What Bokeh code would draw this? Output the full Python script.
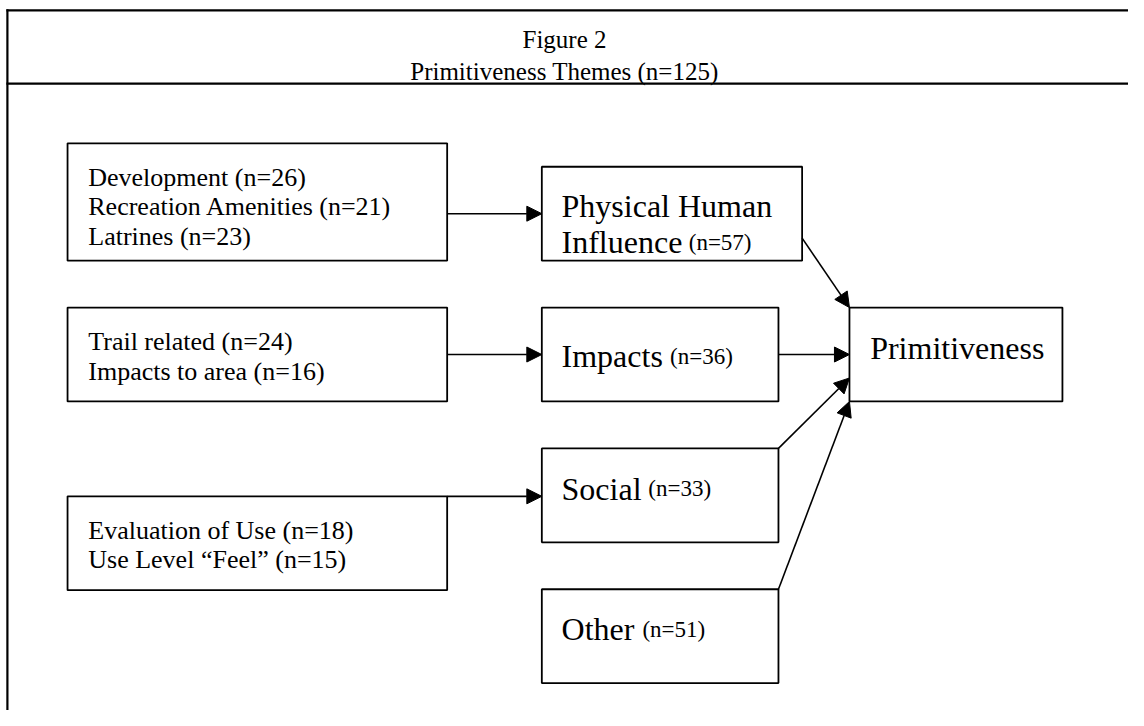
from bokeh.plotting import figure
from bokeh.models import Range1d, Arrow, NormalHead, ColumnDataSource
from bokeh.core.properties import value
from bokeh.embed import file_html
from bokeh.resources import INLINE

# ---------------- data ----------------
title_lines = ["Figure 2", "Primitiveness Themes (n=125)"]
total_n = 125

sub_themes = [
    ["Development", "Recreation Amenities", "Latrines"],
    ["Trail related", "Impacts to area"],
    ["Evaluation of Use", "Use Level \u201cFeel\u201d"],
]
sub_n = [[26, 21, 23], [24, 16], [18, 15]]

themes = [["Physical Human", "Influence"], ["Impacts"], ["Social"], ["Other"]]
theme_n = [57, 36, 33, 51]
outcome = "Primitiveness"

# ---------------- layout (reference pixel space) ----------------
W, H = 1128, 710
REF_W, REF_H = 1144, 726

left_boxes = [(68, 453, 146, 266), (68, 453, 314, 410), (68, 453, 507, 603)]
theme_boxes = [(549, 813, 170, 266), (549, 789, 314, 410), (549, 789, 458, 554), (549, 789, 602, 698)]
out_box = (861, 1077, 314, 410)

left_first_baseline = [181, 349, 542]
left_line_step = 30
theme_baselines = [[210, 247], [364], [499], [643]]
theme_n_x = [698, 679, 657, 651]

FONT = "Liberation Serif"

p = figure(width=W, height=H, output_backend="svg", toolbar_location=None,
           x_range=Range1d(0, REF_W), y_range=Range1d(REF_H, 0),
           min_border=0)
p.axis.visible = False
p.grid.visible = False
p.outline_line_color = None
p.background_fill_color = "white"
p.border_fill_color = "white"

# outer frame (clipped at right/bottom as in the reference)
p.segment(x0=[7, 6, 6], y0=[9, 10, 85], x1=[7, REF_W, REF_W], y1=[REF_H, 10, 85],
          line_color="black", line_width=2.2)

# title
p.text(x=[572, 572], y=[40, 73], text=title_lines, text_font=value(FONT),
       text_font_size="25px", text_align="center", text_baseline="alphabetic",
       text_color="black")

# boxes
allb = left_boxes + theme_boxes + [out_box]
src = ColumnDataSource(dict(left=[b[0] for b in allb], right=[b[1] for b in allb],
                            top=[b[2] for b in allb], bottom=[b[3] for b in allb]))
p.quad(left="left", right="right", top="top", bottom="bottom", source=src,
       fill_color=None, line_color="black", line_width=1.8)

# left box texts
xs, ys, ts = [], [], []
for gi, names in enumerate(sub_themes):
    for li, nm in enumerate(names):
        xs.append(left_boxes[gi][0] + 21)
        ys.append(left_first_baseline[gi] + li * left_line_step)
        ts.append(f"{nm} (n={sub_n[gi][li]})")
p.text(x=xs, y=ys, text=ts, text_font=value(FONT), text_font_size="26px",
       text_baseline="alphabetic", text_color="black")

# theme texts (big) and counts (small)
bx, by, bt, sx, sy, st = [], [], [], [], [], []
for ti, lines in enumerate(themes):
    for li, ln in enumerate(lines):
        bx.append(theme_boxes[ti][0] + 20)
        by.append(theme_baselines[ti][li])
        bt.append(ln)
    sx.append(theme_n_x[ti])
    sy.append(theme_baselines[ti][-1])
    st.append(f"(n={theme_n[ti]})")
p.text(x=bx, y=by, text=bt, text_font=value(FONT), text_font_size="32px",
       text_baseline="alphabetic", text_color="black")
p.text(x=sx, y=sy, text=st, text_font=value(FONT), text_font_size="23px",
       text_baseline="alphabetic", text_color="black")

# outcome text
p.text(x=[out_box[0] + 21], y=[355], text=[outcome], text_font=value(FONT),
       text_font_size="32px", text_baseline="alphabetic", text_color="black")

# arrows
arrows = [
    ((left_boxes[0][1], 218), (theme_boxes[0][0], 218)),
    ((left_boxes[1][1], 362), (theme_boxes[1][0], 362)),
    ((left_boxes[2][1], left_boxes[2][2]), (theme_boxes[2][0], left_boxes[2][2])),
    ((theme_boxes[0][1], 243), (out_box[0], out_box[2])),
    ((theme_boxes[1][1], 362), (out_box[0], 362)),
    ((theme_boxes[2][1], theme_boxes[2][2]), (out_box[0], 386)),
    ((theme_boxes[3][1], theme_boxes[3][2]), (out_box[0], out_box[3])),
]
for (xa, ya), (xb, yb) in arrows:
    p.add_layout(Arrow(end=NormalHead(size=15, fill_color="black", line_color="black", line_width=1),
                       x_start=xa, y_start=ya, x_end=xb, y_end=yb,
                       line_color="black", line_width=1.6))

open("out.html", "w").write(file_html(p, INLINE))
